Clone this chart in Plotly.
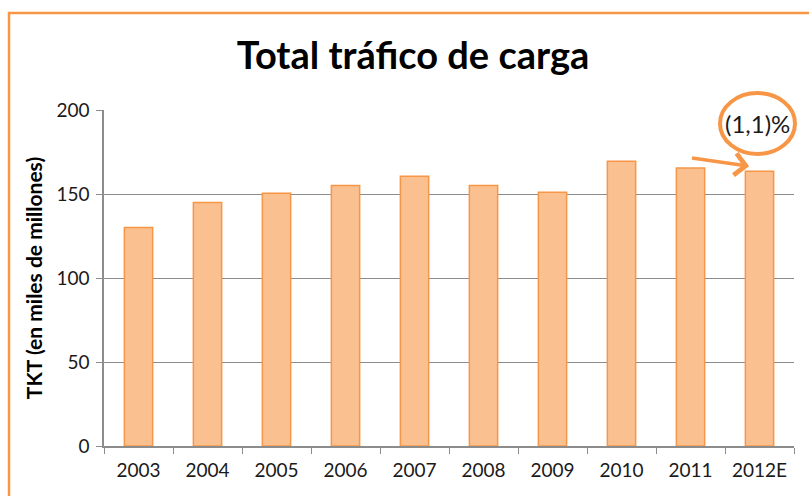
import plotly.graph_objects as go

years = ["2003", "2004", "2005", "2006", "2007", "2008", "2009", "2010", "2011", "2012E"]
tkt = [130, 145, 150.5, 155, 160.5, 155, 151, 169.5, 165.5, 163.5]
y_ticks = [0, 50, 100, 150, 200]
title_text = "Total tráfico de carga"
y_title = "TKT (en miles de millones)"
note_text = "(1,1)%"

W, H = 809, 496
L, R, T, B = 104, 15, 110, 50
PW, PH = W - L - R, H - T - B

def px(x):
    return (x - L) / PW

def py(y):
    return (H - B - y) / PH

ORANGE = "#F79646"
FILL = "#FAC090"
GRID = "#8C8C8C"
FONT = "Lato, Carlito, 'Open Sans', sans-serif"

fig = go.Figure(go.Bar(
    x=years, y=tkt,
    marker=dict(color=FILL, line=dict(color=ORANGE, width=1.5)),
    width=0.41,
))

fig.update_layout(
    width=W, height=H,
    margin=dict(l=L, r=R, t=T, b=B),
    paper_bgcolor="white", plot_bgcolor="white",
    showlegend=False,
    font=dict(family=FONT, color="#1a1a1a"),
    title=dict(text="<b>" + title_text + "</b>", x=413 / W, xanchor="center",
               y=1 - 56 / H, yanchor="middle",
               font=dict(size=38, family=FONT, color="black")),
    xaxis=dict(type="category", tickson="boundaries", ticks="outside", ticklen=6,
               tickcolor=GRID, showline=True, linecolor=GRID, linewidth=1.5,
               showgrid=False, ticklabelstandoff=6,
               tickfont=dict(size=19, color="#1a1a1a")),
    yaxis=dict(range=[0, 200], tickvals=y_ticks, ticks="outside", ticklen=6,
               tickcolor=GRID, showline=True, linecolor=GRID, linewidth=1.5,
               showgrid=True, gridcolor=GRID, gridwidth=1.2, zeroline=False,
               ticklabelstandoff=3,
               tickfont=dict(size=19, color="#1a1a1a"),
               title=dict(text="<b>" + y_title + "</b>", standoff=8,
                          font=dict(size=21, color="black"))),
)

# orange outer frame (left and top edges visible)
fig.add_shape(type="rect", xref="paper", yref="paper",
              x0=px(9), x1=px(W + 20), y0=py(H + 20), y1=py(13),
              line=dict(color=ORANGE, width=2.5), layer="below")

# ellipse around note
fig.add_shape(type="circle", xref="paper", yref="paper",
              x0=px(720), x1=px(795), y0=py(154), y1=py(93),
              line=dict(color=ORANGE, width=4))

fig.add_annotation(text=note_text, xref="paper", yref="paper",
                   x=px(757), y=py(124), xanchor="center", yanchor="middle",
                   showarrow=False, font=dict(size=24, color="#1a1a1a"))

# arrow pointing at 2012E bar
fig.add_annotation(xref="x", yref="y", axref="x", ayref="y",
                   x=8.85, y=166.5, ax=8.0, ay=171.5, text="",
                   showarrow=True, arrowhead=4, arrowsize=1.2,
                   arrowwidth=3.5, arrowcolor=ORANGE)

fig.write_html("out.html", config={"displayModeBar": False},
               post_script="document.body.style.margin='0';")
